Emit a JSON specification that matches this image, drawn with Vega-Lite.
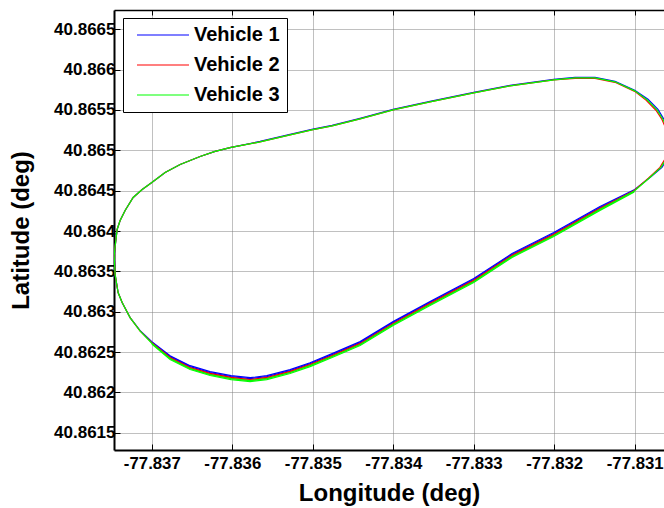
{
  "$schema": "https://vega.github.io/schema/vega-lite/v6.json",
  "width": 550,
  "height": 440,
  "autosize": {"type": "none"},
  "padding": {"left": 114, "top": 10, "right": 0, "bottom": 58},
  "background": "white",
  "config": {
    "view": {"stroke": null},
    "axis": {
      "labelFont": "Liberation Sans",
      "labelFontWeight": "bold",
      "labelColor": "black",
      "titleFont": "Liberation Sans",
      "titleFontWeight": "bold",
      "titleColor": "black",
      "domainColor": "black",
      "domainWidth": 2,
      "tickColor": "black",
      "tickWidth": 1,
      "labelOverlap": false,
      "labelFlush": false
    }
  },
  "datasets": {
    "tracks": [
      {"vehicle":"Vehicle 1","lap":1,"seq":1,"lon":-77.837468,"lat":40.863696},
      {"vehicle":"Vehicle 1","lap":1,"seq":2,"lon":-77.837456,"lat":40.863808},
      {"vehicle":"Vehicle 1","lap":1,"seq":3,"lon":-77.837431,"lat":40.864019},
      {"vehicle":"Vehicle 1","lap":1,"seq":4,"lon":-77.837394,"lat":40.864130},
      {"vehicle":"Vehicle 1","lap":1,"seq":5,"lon":-77.837332,"lat":40.864254},
      {"vehicle":"Vehicle 1","lap":1,"seq":6,"lon":-77.837232,"lat":40.864416},
      {"vehicle":"Vehicle 1","lap":1,"seq":7,"lon":-77.837120,"lat":40.864515},
      {"vehicle":"Vehicle 1","lap":1,"seq":8,"lon":-77.837000,"lat":40.864602},
      {"vehicle":"Vehicle 1","lap":1,"seq":9,"lon":-77.836835,"lat":40.864726},
      {"vehicle":"Vehicle 1","lap":1,"seq":10,"lon":-77.836648,"lat":40.864825},
      {"vehicle":"Vehicle 1","lap":1,"seq":11,"lon":-77.836400,"lat":40.864924},
      {"vehicle":"Vehicle 1","lap":1,"seq":12,"lon":-77.836214,"lat":40.864986},
      {"vehicle":"Vehicle 1","lap":1,"seq":13,"lon":-77.836015,"lat":40.865036},
      {"vehicle":"Vehicle 1","lap":1,"seq":14,"lon":-77.835655,"lat":40.865110},
      {"vehicle":"Vehicle 1","lap":1,"seq":15,"lon":-77.835282,"lat":40.865197},
      {"vehicle":"Vehicle 1","lap":1,"seq":16,"lon":-77.835012,"lat":40.865259},
      {"vehicle":"Vehicle 1","lap":1,"seq":17,"lon":-77.834760,"lat":40.865309},
      {"vehicle":"Vehicle 1","lap":1,"seq":18,"lon":-77.834412,"lat":40.865396},
      {"vehicle":"Vehicle 1","lap":1,"seq":19,"lon":-77.834002,"lat":40.865507},
      {"vehicle":"Vehicle 1","lap":1,"seq":20,"lon":-77.833543,"lat":40.865607},
      {"vehicle":"Vehicle 1","lap":1,"seq":21,"lon":-77.833000,"lat":40.865718},
      {"vehicle":"Vehicle 1","lap":1,"seq":22,"lon":-77.832549,"lat":40.865805},
      {"vehicle":"Vehicle 1","lap":1,"seq":23,"lon":-77.832006,"lat":40.865880},
      {"vehicle":"Vehicle 1","lap":1,"seq":24,"lon":-77.831742,"lat":40.865904},
      {"vehicle":"Vehicle 1","lap":1,"seq":25,"lon":-77.831493,"lat":40.865904},
      {"vehicle":"Vehicle 1","lap":1,"seq":26,"lon":-77.831245,"lat":40.865855},
      {"vehicle":"Vehicle 1","lap":1,"seq":27,"lon":-77.831000,"lat":40.865743},
      {"vehicle":"Vehicle 1","lap":1,"seq":28,"lon":-77.830835,"lat":40.865632},
      {"vehicle":"Vehicle 1","lap":1,"seq":29,"lon":-77.830711,"lat":40.865507},
      {"vehicle":"Vehicle 1","lap":1,"seq":30,"lon":-77.830636,"lat":40.865383},
      {"vehicle":"Vehicle 1","lap":1,"seq":31,"lon":-77.830574,"lat":40.865234},
      {"vehicle":"Vehicle 1","lap":1,"seq":32,"lon":-77.830549,"lat":40.865073},
      {"vehicle":"Vehicle 1","lap":1,"seq":33,"lon":-77.830586,"lat":40.864912},
      {"vehicle":"Vehicle 1","lap":1,"seq":34,"lon":-77.830661,"lat":40.864788},
      {"vehicle":"Vehicle 1","lap":1,"seq":35,"lon":-77.830810,"lat":40.864664},
      {"vehicle":"Vehicle 1","lap":1,"seq":36,"lon":-77.831000,"lat":40.864515},
      {"vehicle":"Vehicle 1","lap":1,"seq":37,"lon":-77.831431,"lat":40.864304},
      {"vehicle":"Vehicle 1","lap":1,"seq":38,"lon":-77.832006,"lat":40.863981},
      {"vehicle":"Vehicle 1","lap":1,"seq":39,"lon":-77.832524,"lat":40.863721},
      {"vehicle":"Vehicle 1","lap":1,"seq":40,"lon":-77.833000,"lat":40.863411},
      {"vehicle":"Vehicle 1","lap":1,"seq":41,"lon":-77.833543,"lat":40.863125},
      {"vehicle":"Vehicle 1","lap":1,"seq":42,"lon":-77.834002,"lat":40.862877},
      {"vehicle":"Vehicle 1","lap":1,"seq":43,"lon":-77.834412,"lat":40.862629},
      {"vehicle":"Vehicle 1","lap":1,"seq":44,"lon":-77.834760,"lat":40.862480},
      {"vehicle":"Vehicle 1","lap":1,"seq":45,"lon":-77.835034,"lat":40.862368},
      {"vehicle":"Vehicle 1","lap":1,"seq":46,"lon":-77.835282,"lat":40.862282},
      {"vehicle":"Vehicle 1","lap":1,"seq":47,"lon":-77.835571,"lat":40.862207},
      {"vehicle":"Vehicle 1","lap":1,"seq":48,"lon":-77.835779,"lat":40.862182},
      {"vehicle":"Vehicle 1","lap":1,"seq":49,"lon":-77.836015,"lat":40.862207},
      {"vehicle":"Vehicle 1","lap":1,"seq":50,"lon":-77.836276,"lat":40.862257},
      {"vehicle":"Vehicle 1","lap":1,"seq":51,"lon":-77.836524,"lat":40.862331},
      {"vehicle":"Vehicle 1","lap":1,"seq":52,"lon":-77.836773,"lat":40.862455},
      {"vehicle":"Vehicle 1","lap":1,"seq":53,"lon":-77.837000,"lat":40.862629},
      {"vehicle":"Vehicle 1","lap":1,"seq":54,"lon":-77.837145,"lat":40.862766},
      {"vehicle":"Vehicle 1","lap":1,"seq":55,"lon":-77.837270,"lat":40.862927},
      {"vehicle":"Vehicle 1","lap":1,"seq":56,"lon":-77.837369,"lat":40.863113},
      {"vehicle":"Vehicle 1","lap":1,"seq":57,"lon":-77.837419,"lat":40.863237},
      {"vehicle":"Vehicle 1","lap":1,"seq":58,"lon":-77.837456,"lat":40.863460},
      {"vehicle":"Vehicle 1","lap":1,"seq":59,"lon":-77.837468,"lat":40.863696},
      {"vehicle":"Vehicle 1","lap":2,"seq":36,"lon":-77.831000,"lat":40.864503},
      {"vehicle":"Vehicle 1","lap":2,"seq":37,"lon":-77.831431,"lat":40.864292},
      {"vehicle":"Vehicle 1","lap":2,"seq":38,"lon":-77.832006,"lat":40.863969},
      {"vehicle":"Vehicle 1","lap":2,"seq":39,"lon":-77.832524,"lat":40.863709},
      {"vehicle":"Vehicle 1","lap":2,"seq":40,"lon":-77.833000,"lat":40.863399},
      {"vehicle":"Vehicle 1","lap":2,"seq":41,"lon":-77.833543,"lat":40.863113},
      {"vehicle":"Vehicle 1","lap":2,"seq":42,"lon":-77.834002,"lat":40.862865},
      {"vehicle":"Vehicle 1","lap":2,"seq":43,"lon":-77.834412,"lat":40.862617},
      {"vehicle":"Vehicle 1","lap":2,"seq":44,"lon":-77.834760,"lat":40.862468},
      {"vehicle":"Vehicle 1","lap":2,"seq":45,"lon":-77.835034,"lat":40.862356},
      {"vehicle":"Vehicle 1","lap":2,"seq":46,"lon":-77.835282,"lat":40.862270},
      {"vehicle":"Vehicle 1","lap":2,"seq":47,"lon":-77.835571,"lat":40.862195},
      {"vehicle":"Vehicle 1","lap":2,"seq":48,"lon":-77.835779,"lat":40.862170},
      {"vehicle":"Vehicle 1","lap":2,"seq":49,"lon":-77.836015,"lat":40.862195},
      {"vehicle":"Vehicle 1","lap":2,"seq":50,"lon":-77.836276,"lat":40.862245},
      {"vehicle":"Vehicle 1","lap":2,"seq":51,"lon":-77.836524,"lat":40.862319},
      {"vehicle":"Vehicle 1","lap":2,"seq":52,"lon":-77.836773,"lat":40.862443},
      {"vehicle":"Vehicle 1","lap":2,"seq":53,"lon":-77.837000,"lat":40.862620},
      {"vehicle":"Vehicle 2","lap":1,"seq":1,"lon":-77.837468,"lat":40.863696},
      {"vehicle":"Vehicle 2","lap":1,"seq":2,"lon":-77.837456,"lat":40.863808},
      {"vehicle":"Vehicle 2","lap":1,"seq":3,"lon":-77.837431,"lat":40.864019},
      {"vehicle":"Vehicle 2","lap":1,"seq":4,"lon":-77.837394,"lat":40.864130},
      {"vehicle":"Vehicle 2","lap":1,"seq":5,"lon":-77.837332,"lat":40.864254},
      {"vehicle":"Vehicle 2","lap":1,"seq":6,"lon":-77.837232,"lat":40.864416},
      {"vehicle":"Vehicle 2","lap":1,"seq":7,"lon":-77.837120,"lat":40.864515},
      {"vehicle":"Vehicle 2","lap":1,"seq":8,"lon":-77.837000,"lat":40.864602},
      {"vehicle":"Vehicle 2","lap":1,"seq":9,"lon":-77.836835,"lat":40.864726},
      {"vehicle":"Vehicle 2","lap":1,"seq":10,"lon":-77.836648,"lat":40.864825},
      {"vehicle":"Vehicle 2","lap":1,"seq":11,"lon":-77.836400,"lat":40.864924},
      {"vehicle":"Vehicle 2","lap":1,"seq":12,"lon":-77.836214,"lat":40.864986},
      {"vehicle":"Vehicle 2","lap":1,"seq":13,"lon":-77.836015,"lat":40.865036},
      {"vehicle":"Vehicle 2","lap":1,"seq":14,"lon":-77.835655,"lat":40.865104},
      {"vehicle":"Vehicle 2","lap":1,"seq":15,"lon":-77.835282,"lat":40.865191},
      {"vehicle":"Vehicle 2","lap":1,"seq":16,"lon":-77.835012,"lat":40.865253},
      {"vehicle":"Vehicle 2","lap":1,"seq":17,"lon":-77.834760,"lat":40.865303},
      {"vehicle":"Vehicle 2","lap":1,"seq":18,"lon":-77.834412,"lat":40.865390},
      {"vehicle":"Vehicle 2","lap":1,"seq":19,"lon":-77.834002,"lat":40.865501},
      {"vehicle":"Vehicle 2","lap":1,"seq":20,"lon":-77.833543,"lat":40.865601},
      {"vehicle":"Vehicle 2","lap":1,"seq":21,"lon":-77.833000,"lat":40.865712},
      {"vehicle":"Vehicle 2","lap":1,"seq":22,"lon":-77.832549,"lat":40.865799},
      {"vehicle":"Vehicle 2","lap":1,"seq":23,"lon":-77.832006,"lat":40.865874},
      {"vehicle":"Vehicle 2","lap":1,"seq":24,"lon":-77.831742,"lat":40.865892},
      {"vehicle":"Vehicle 2","lap":1,"seq":25,"lon":-77.831493,"lat":40.865892},
      {"vehicle":"Vehicle 2","lap":1,"seq":26,"lon":-77.831245,"lat":40.865843},
      {"vehicle":"Vehicle 2","lap":1,"seq":27,"lon":-77.831000,"lat":40.865731},
      {"vehicle":"Vehicle 2","lap":1,"seq":28,"lon":-77.830860,"lat":40.865622},
      {"vehicle":"Vehicle 2","lap":1,"seq":29,"lon":-77.830736,"lat":40.865497},
      {"vehicle":"Vehicle 2","lap":1,"seq":30,"lon":-77.830661,"lat":40.865383},
      {"vehicle":"Vehicle 2","lap":1,"seq":31,"lon":-77.830599,"lat":40.865234},
      {"vehicle":"Vehicle 2","lap":1,"seq":32,"lon":-77.830574,"lat":40.865073},
      {"vehicle":"Vehicle 2","lap":1,"seq":33,"lon":-77.830611,"lat":40.864912},
      {"vehicle":"Vehicle 2","lap":1,"seq":34,"lon":-77.830686,"lat":40.864788},
      {"vehicle":"Vehicle 2","lap":1,"seq":35,"lon":-77.830830,"lat":40.864654},
      {"vehicle":"Vehicle 2","lap":1,"seq":36,"lon":-77.831010,"lat":40.864500},
      {"vehicle":"Vehicle 2","lap":1,"seq":37,"lon":-77.831431,"lat":40.864282},
      {"vehicle":"Vehicle 2","lap":1,"seq":38,"lon":-77.832006,"lat":40.863959},
      {"vehicle":"Vehicle 2","lap":1,"seq":39,"lon":-77.832524,"lat":40.863699},
      {"vehicle":"Vehicle 2","lap":1,"seq":40,"lon":-77.833000,"lat":40.863389},
      {"vehicle":"Vehicle 2","lap":1,"seq":41,"lon":-77.833543,"lat":40.863103},
      {"vehicle":"Vehicle 2","lap":1,"seq":42,"lon":-77.834002,"lat":40.862855},
      {"vehicle":"Vehicle 2","lap":1,"seq":43,"lon":-77.834412,"lat":40.862607},
      {"vehicle":"Vehicle 2","lap":1,"seq":44,"lon":-77.834760,"lat":40.862458},
      {"vehicle":"Vehicle 2","lap":1,"seq":45,"lon":-77.835034,"lat":40.862346},
      {"vehicle":"Vehicle 2","lap":1,"seq":46,"lon":-77.835282,"lat":40.862260},
      {"vehicle":"Vehicle 2","lap":1,"seq":47,"lon":-77.835571,"lat":40.862185},
      {"vehicle":"Vehicle 2","lap":1,"seq":48,"lon":-77.835779,"lat":40.862160},
      {"vehicle":"Vehicle 2","lap":1,"seq":49,"lon":-77.836015,"lat":40.862185},
      {"vehicle":"Vehicle 2","lap":1,"seq":50,"lon":-77.836276,"lat":40.862235},
      {"vehicle":"Vehicle 2","lap":1,"seq":51,"lon":-77.836524,"lat":40.862309},
      {"vehicle":"Vehicle 2","lap":1,"seq":52,"lon":-77.836773,"lat":40.862433},
      {"vehicle":"Vehicle 2","lap":1,"seq":53,"lon":-77.837000,"lat":40.862615},
      {"vehicle":"Vehicle 2","lap":1,"seq":54,"lon":-77.837145,"lat":40.862760},
      {"vehicle":"Vehicle 2","lap":1,"seq":55,"lon":-77.837270,"lat":40.862927},
      {"vehicle":"Vehicle 2","lap":1,"seq":56,"lon":-77.837369,"lat":40.863113},
      {"vehicle":"Vehicle 2","lap":1,"seq":57,"lon":-77.837419,"lat":40.863237},
      {"vehicle":"Vehicle 2","lap":1,"seq":58,"lon":-77.837456,"lat":40.863460},
      {"vehicle":"Vehicle 2","lap":1,"seq":59,"lon":-77.837468,"lat":40.863696},
      {"vehicle":"Vehicle 2","lap":2,"seq":36,"lon":-77.831010,"lat":40.864490},
      {"vehicle":"Vehicle 2","lap":2,"seq":37,"lon":-77.831431,"lat":40.864272},
      {"vehicle":"Vehicle 2","lap":2,"seq":38,"lon":-77.832006,"lat":40.863949},
      {"vehicle":"Vehicle 2","lap":2,"seq":39,"lon":-77.832524,"lat":40.863689},
      {"vehicle":"Vehicle 2","lap":2,"seq":40,"lon":-77.833000,"lat":40.863379},
      {"vehicle":"Vehicle 2","lap":2,"seq":41,"lon":-77.833543,"lat":40.863093},
      {"vehicle":"Vehicle 2","lap":2,"seq":42,"lon":-77.834002,"lat":40.862845},
      {"vehicle":"Vehicle 2","lap":2,"seq":43,"lon":-77.834412,"lat":40.862597},
      {"vehicle":"Vehicle 2","lap":2,"seq":44,"lon":-77.834760,"lat":40.862448},
      {"vehicle":"Vehicle 2","lap":2,"seq":45,"lon":-77.835034,"lat":40.862336},
      {"vehicle":"Vehicle 2","lap":2,"seq":46,"lon":-77.835282,"lat":40.862250},
      {"vehicle":"Vehicle 2","lap":2,"seq":47,"lon":-77.835571,"lat":40.862175},
      {"vehicle":"Vehicle 2","lap":2,"seq":48,"lon":-77.835779,"lat":40.862150},
      {"vehicle":"Vehicle 2","lap":2,"seq":49,"lon":-77.836015,"lat":40.862175},
      {"vehicle":"Vehicle 2","lap":2,"seq":50,"lon":-77.836276,"lat":40.862225},
      {"vehicle":"Vehicle 2","lap":2,"seq":51,"lon":-77.836524,"lat":40.862299},
      {"vehicle":"Vehicle 2","lap":2,"seq":52,"lon":-77.836773,"lat":40.862423},
      {"vehicle":"Vehicle 2","lap":2,"seq":53,"lon":-77.837000,"lat":40.862610},
      {"vehicle":"Vehicle 3","lap":1,"seq":1,"lon":-77.837468,"lat":40.863696},
      {"vehicle":"Vehicle 3","lap":1,"seq":2,"lon":-77.837456,"lat":40.863808},
      {"vehicle":"Vehicle 3","lap":1,"seq":3,"lon":-77.837431,"lat":40.864019},
      {"vehicle":"Vehicle 3","lap":1,"seq":4,"lon":-77.837394,"lat":40.864130},
      {"vehicle":"Vehicle 3","lap":1,"seq":5,"lon":-77.837332,"lat":40.864254},
      {"vehicle":"Vehicle 3","lap":1,"seq":6,"lon":-77.837232,"lat":40.864416},
      {"vehicle":"Vehicle 3","lap":1,"seq":7,"lon":-77.837120,"lat":40.864515},
      {"vehicle":"Vehicle 3","lap":1,"seq":8,"lon":-77.837000,"lat":40.864602},
      {"vehicle":"Vehicle 3","lap":1,"seq":9,"lon":-77.836835,"lat":40.864726},
      {"vehicle":"Vehicle 3","lap":1,"seq":10,"lon":-77.836648,"lat":40.864825},
      {"vehicle":"Vehicle 3","lap":1,"seq":11,"lon":-77.836400,"lat":40.864924},
      {"vehicle":"Vehicle 3","lap":1,"seq":12,"lon":-77.836214,"lat":40.864986},
      {"vehicle":"Vehicle 3","lap":1,"seq":13,"lon":-77.836015,"lat":40.865036},
      {"vehicle":"Vehicle 3","lap":1,"seq":14,"lon":-77.835655,"lat":40.865104},
      {"vehicle":"Vehicle 3","lap":1,"seq":15,"lon":-77.835282,"lat":40.865191},
      {"vehicle":"Vehicle 3","lap":1,"seq":16,"lon":-77.835012,"lat":40.865253},
      {"vehicle":"Vehicle 3","lap":1,"seq":17,"lon":-77.834760,"lat":40.865303},
      {"vehicle":"Vehicle 3","lap":1,"seq":18,"lon":-77.834412,"lat":40.865390},
      {"vehicle":"Vehicle 3","lap":1,"seq":19,"lon":-77.834002,"lat":40.865501},
      {"vehicle":"Vehicle 3","lap":1,"seq":20,"lon":-77.833543,"lat":40.865601},
      {"vehicle":"Vehicle 3","lap":1,"seq":21,"lon":-77.833000,"lat":40.865712},
      {"vehicle":"Vehicle 3","lap":1,"seq":22,"lon":-77.832549,"lat":40.865799},
      {"vehicle":"Vehicle 3","lap":1,"seq":23,"lon":-77.832006,"lat":40.865874},
      {"vehicle":"Vehicle 3","lap":1,"seq":24,"lon":-77.831742,"lat":40.865898},
      {"vehicle":"Vehicle 3","lap":1,"seq":25,"lon":-77.831493,"lat":40.865898},
      {"vehicle":"Vehicle 3","lap":1,"seq":26,"lon":-77.831245,"lat":40.865849},
      {"vehicle":"Vehicle 3","lap":1,"seq":27,"lon":-77.831000,"lat":40.865737},
      {"vehicle":"Vehicle 3","lap":1,"seq":28,"lon":-77.830847,"lat":40.865627},
      {"vehicle":"Vehicle 3","lap":1,"seq":29,"lon":-77.830723,"lat":40.865502},
      {"vehicle":"Vehicle 3","lap":1,"seq":30,"lon":-77.830648,"lat":40.865383},
      {"vehicle":"Vehicle 3","lap":1,"seq":31,"lon":-77.830586,"lat":40.865234},
      {"vehicle":"Vehicle 3","lap":1,"seq":32,"lon":-77.830561,"lat":40.865073},
      {"vehicle":"Vehicle 3","lap":1,"seq":33,"lon":-77.830598,"lat":40.864912},
      {"vehicle":"Vehicle 3","lap":1,"seq":34,"lon":-77.830673,"lat":40.864788},
      {"vehicle":"Vehicle 3","lap":1,"seq":35,"lon":-77.830822,"lat":40.864654},
      {"vehicle":"Vehicle 3","lap":1,"seq":36,"lon":-77.831005,"lat":40.864497},
      {"vehicle":"Vehicle 3","lap":1,"seq":37,"lon":-77.831431,"lat":40.864268},
      {"vehicle":"Vehicle 3","lap":1,"seq":38,"lon":-77.832006,"lat":40.863945},
      {"vehicle":"Vehicle 3","lap":1,"seq":39,"lon":-77.832524,"lat":40.863685},
      {"vehicle":"Vehicle 3","lap":1,"seq":40,"lon":-77.833000,"lat":40.863375},
      {"vehicle":"Vehicle 3","lap":1,"seq":41,"lon":-77.833543,"lat":40.863089},
      {"vehicle":"Vehicle 3","lap":1,"seq":42,"lon":-77.834002,"lat":40.862841},
      {"vehicle":"Vehicle 3","lap":1,"seq":43,"lon":-77.834412,"lat":40.862593},
      {"vehicle":"Vehicle 3","lap":1,"seq":44,"lon":-77.834760,"lat":40.862444},
      {"vehicle":"Vehicle 3","lap":1,"seq":45,"lon":-77.835034,"lat":40.862332},
      {"vehicle":"Vehicle 3","lap":1,"seq":46,"lon":-77.835282,"lat":40.862246},
      {"vehicle":"Vehicle 3","lap":1,"seq":47,"lon":-77.835571,"lat":40.862171},
      {"vehicle":"Vehicle 3","lap":1,"seq":48,"lon":-77.835779,"lat":40.862146},
      {"vehicle":"Vehicle 3","lap":1,"seq":49,"lon":-77.836015,"lat":40.862171},
      {"vehicle":"Vehicle 3","lap":1,"seq":50,"lon":-77.836276,"lat":40.862221},
      {"vehicle":"Vehicle 3","lap":1,"seq":51,"lon":-77.836524,"lat":40.862295},
      {"vehicle":"Vehicle 3","lap":1,"seq":52,"lon":-77.836773,"lat":40.862419},
      {"vehicle":"Vehicle 3","lap":1,"seq":53,"lon":-77.837000,"lat":40.862609},
      {"vehicle":"Vehicle 3","lap":1,"seq":54,"lon":-77.837145,"lat":40.862758},
      {"vehicle":"Vehicle 3","lap":1,"seq":55,"lon":-77.837270,"lat":40.862927},
      {"vehicle":"Vehicle 3","lap":1,"seq":56,"lon":-77.837369,"lat":40.863113},
      {"vehicle":"Vehicle 3","lap":1,"seq":57,"lon":-77.837419,"lat":40.863237},
      {"vehicle":"Vehicle 3","lap":1,"seq":58,"lon":-77.837456,"lat":40.863460},
      {"vehicle":"Vehicle 3","lap":1,"seq":59,"lon":-77.837468,"lat":40.863696},
      {"vehicle":"Vehicle 3","lap":2,"seq":36,"lon":-77.831005,"lat":40.864485},
      {"vehicle":"Vehicle 3","lap":2,"seq":37,"lon":-77.831431,"lat":40.864256},
      {"vehicle":"Vehicle 3","lap":2,"seq":38,"lon":-77.832006,"lat":40.863933},
      {"vehicle":"Vehicle 3","lap":2,"seq":39,"lon":-77.832524,"lat":40.863673},
      {"vehicle":"Vehicle 3","lap":2,"seq":40,"lon":-77.833000,"lat":40.863363},
      {"vehicle":"Vehicle 3","lap":2,"seq":41,"lon":-77.833543,"lat":40.863077},
      {"vehicle":"Vehicle 3","lap":2,"seq":42,"lon":-77.834002,"lat":40.862829},
      {"vehicle":"Vehicle 3","lap":2,"seq":43,"lon":-77.834412,"lat":40.862581},
      {"vehicle":"Vehicle 3","lap":2,"seq":44,"lon":-77.834760,"lat":40.862432},
      {"vehicle":"Vehicle 3","lap":2,"seq":45,"lon":-77.835034,"lat":40.862320},
      {"vehicle":"Vehicle 3","lap":2,"seq":46,"lon":-77.835282,"lat":40.862234},
      {"vehicle":"Vehicle 3","lap":2,"seq":47,"lon":-77.835571,"lat":40.862159},
      {"vehicle":"Vehicle 3","lap":2,"seq":48,"lon":-77.835779,"lat":40.862134},
      {"vehicle":"Vehicle 3","lap":2,"seq":49,"lon":-77.836015,"lat":40.862159},
      {"vehicle":"Vehicle 3","lap":2,"seq":50,"lon":-77.836276,"lat":40.862209},
      {"vehicle":"Vehicle 3","lap":2,"seq":51,"lon":-77.836524,"lat":40.862283},
      {"vehicle":"Vehicle 3","lap":2,"seq":52,"lon":-77.836773,"lat":40.862407},
      {"vehicle":"Vehicle 3","lap":2,"seq":53,"lon":-77.837000,"lat":40.862600}
    ],
    "topTicks": [{"lon": -77.837}]
  },
  "layer": [
    {
      "data": {"name": "tracks"},
      "mark": {"type": "line", "strokeWidth": 1.2, "clip": true},
      "encoding": {
        "x": {
          "field": "lon",
          "type": "quantitative",
          "scale": {"domain": [-77.83747, -77.830636], "nice": false, "zero": false},
          "axis": {
            "orient": "bottom",
            "values": [-77.837, -77.836, -77.835, -77.834, -77.833, -77.832, -77.831],
            "labelExpr": "replace(format(datum.value, '.3f'), '−', '-')",
            "labelFontSize": 16.8,
            "labelPadding": 11,
            "tickSize": -6,
            "grid": true,
            "gridColor": "#808080",
            "gridDash": [1, 1],
            "gridWidth": 1,
            "title": "Longitude (deg)",
            "titleFontSize": 24,
            "titlePadding": 10
          }
        },
        "y": {
          "field": "lat",
          "type": "quantitative",
          "scale": {"domain": [40.861286, 40.866739], "nice": false, "zero": false},
          "axis": {
            "orient": "left",
            "values": [40.8615, 40.862, 40.8625, 40.863, 40.8635, 40.864, 40.8645, 40.865, 40.8655, 40.866, 40.8665],
            "format": ".4~f",
            "labelFontSize": 17,
            "labelPadding": 5,
            "tickSize": -6,
            "grid": true,
            "gridColor": "#808080",
            "gridDash": [1, 1],
            "gridWidth": 1,
            "title": "Latitude (deg)",
            "titleFontSize": 24,
            "titlePadding": 20
          }
        },
        "color": {
          "field": "vehicle",
          "type": "nominal",
          "scale": {
            "domain": ["Vehicle 1", "Vehicle 2", "Vehicle 3"],
            "range": ["#0000ff", "#ff0000", "#00ff00"]
          },
          "legend": {
            "orient": "none",
            "legendX": 9,
            "legendY": 8,
            "title": null,
            "symbolType": "M-4,0H4",
            "symbolSize": 169,
            "symbolStrokeWidth": 1.2,
            "symbolOffset": 23,
            "labelFont": "Liberation Sans",
            "labelFontWeight": "bold",
            "labelFontSize": 20,
            "labelColor": "black",
            "labelOffset": 21,
            "rowPadding": 10,
            "padding": 7,
            "fillColor": "white",
            "strokeColor": "black"
          }
        },
        "detail": {"field": "lap"},
        "order": {"field": "seq", "type": "quantitative"}
      }
    },
    {
      "data": {"name": "topTicks"},
      "mark": {"type": "rule", "strokeOpacity": 0},
      "encoding": {
        "x": {
          "field": "lon",
          "type": "quantitative",
          "axis": {
            "orient": "top",
            "values": [-77.837, -77.836, -77.835, -77.834, -77.833, -77.832, -77.831],
            "labels": false,
            "grid": false,
            "title": null,
            "tickSize": -5,
            "domainWidth": 1.5
          }
        }
      }
    }
  ]
}
